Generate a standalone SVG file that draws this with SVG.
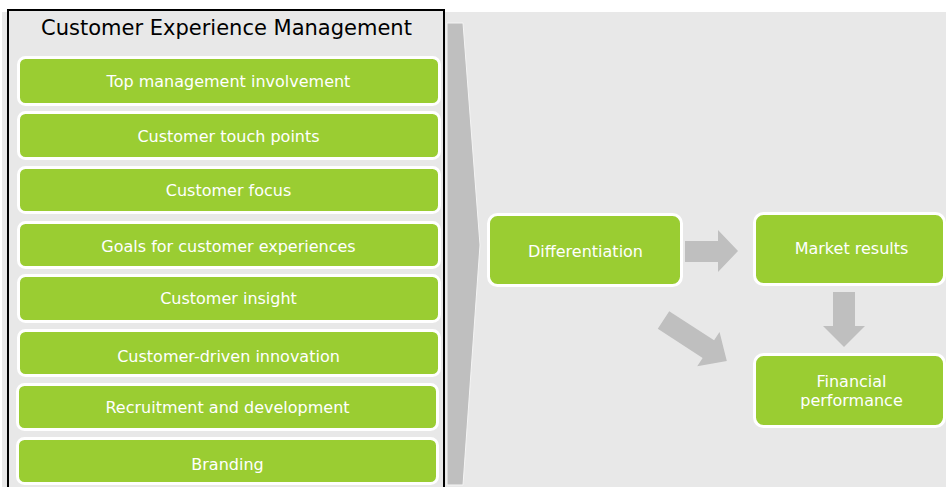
<svg xmlns="http://www.w3.org/2000/svg" width="946" height="487" viewBox="0 0 946 487">
  <style>
    .box { fill: #9acd32; stroke: #ffffff; stroke-width: 3; }
    .lbl { font-family: "DejaVu Sans", Verdana, sans-serif; font-size: 16px; fill: #ffffff; text-anchor: middle; }
    .title { font-family: "DejaVu Sans", Verdana, sans-serif; font-size: 21px; fill: #000000; text-anchor: middle; }
    .arrow { fill: #bfbfbf; }
  </style>

  <!-- backdrop -->
  <rect x="2" y="12" width="944" height="475" fill="#e8e8e8"/>

  <!-- CEM panel -->
  <g id="cem-panel">
    <rect x="8" y="10" width="436" height="482" fill="#e8e8e8" stroke="#000000" stroke-width="2"/>
    <text class="title" x="226.5" y="35">Customer Experience Management</text>
  </g>

  <g id="top-management">
    <rect class="box" x="18.5" y="57.5" width="421" height="47" rx="7"/>
    <text class="lbl" x="228.5" y="87">Top management involvement</text>
  </g>
  <g id="touch-points">
    <rect class="box" x="18.5" y="112.5" width="421" height="46" rx="7"/>
    <text class="lbl" x="228.5" y="142">Customer touch points</text>
  </g>
  <g id="customer-focus">
    <rect class="box" x="18.5" y="167.5" width="421" height="45" rx="7"/>
    <text class="lbl" x="228.5" y="196">Customer focus</text>
  </g>
  <g id="goals">
    <rect class="box" x="18.5" y="222.5" width="421" height="45" rx="7"/>
    <text class="lbl" x="228.5" y="252">Goals for customer experiences</text>
  </g>
  <g id="customer-insight">
    <rect class="box" x="18.5" y="275.5" width="421" height="46" rx="7"/>
    <text class="lbl" x="228.5" y="304">Customer insight</text>
  </g>
  <g id="innovation">
    <rect class="box" x="18.5" y="330.5" width="421" height="45" rx="7"/>
    <text class="lbl" x="228.5" y="362">Customer-driven innovation</text>
  </g>
  <g id="recruitment">
    <rect class="box" x="17.5" y="384.5" width="420" height="45" rx="7"/>
    <text class="lbl" x="227.5" y="413">Recruitment and development</text>
  </g>
  <g id="branding">
    <rect class="box" x="17.5" y="438.5" width="420" height="45" rx="7"/>
    <text class="lbl" x="227.5" y="470">Branding</text>
  </g>

  <!-- right-hand outcome nodes -->
  <g id="differentiation">
    <rect class="box" x="488.5" y="214.5" width="193" height="71" rx="9"/>
    <text class="lbl" x="585.5" y="257">Differentiation</text>
  </g>
  <g id="market-results">
    <rect class="box" x="754.5" y="213.5" width="190" height="71" rx="9"/>
    <text class="lbl" x="851.5" y="254">Market results</text>
  </g>
  <g id="financial-performance">
    <rect class="box" x="754.5" y="354.5" width="190" height="72" rx="9"/>
    <text class="lbl" x="851.5" y="386.5">Financial</text>
    <text class="lbl" x="851.5" y="405.5">performance</text>
  </g>

  <!-- connectors -->
  <g id="connectors">
    <!-- chevron from the CEM panel -->
    <polygon points="447,23 463,23 480,245 463,485 447,485" fill="#bfbfbf" stroke="#f4f4f4" stroke-width="1"/>
    <!-- Differentiation -> Market results -->
    <polygon class="arrow" points="685,241 718,241 718,230 738,251 718,272 718,262 685,262"/>
    <!-- Market results -> Financial performance -->
    <polygon class="arrow" points="833,292 855,292 855,326 865,326 844,347 823,326 833,326"/>
    <!-- Differentiation -> Financial performance -->
    <polygon class="arrow" transform="translate(663.5,320) rotate(33)" points="0,-10.5 53.5,-10.5 53.5,-20.5 75.5,0 53.5,20.5 53.5,10.5 0,10.5"/>
  </g>
</svg>
